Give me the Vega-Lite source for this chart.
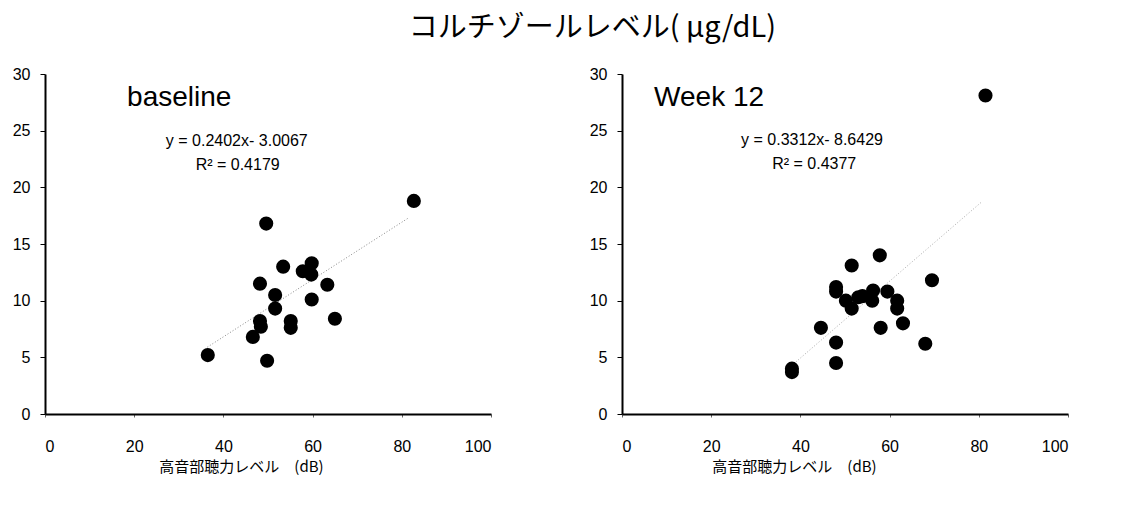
{
  "$schema": "https://vega.github.io/schema/vega-lite/v6.json",
  "padding": {"left": 12, "top": 14, "right": 10, "bottom": 5},
  "background": "white",
  "title": {"text": "コルチゾールレベル( μg/dL)", "font": "Noto Sans CJK JP", "fontSize": 29, "fontWeight": "normal", "anchor": "middle", "dx": 52, "offset": 23, "color": "black"},
  "spacing": 131,
  "bounds": "flush",
  "config": {
    "view": {"stroke": null},
    "axis": {"grid": false, "domainColor": "black", "domainWidth": 2, "tickColor": "black", "labelColor": "black", "labelFont": "Liberation Sans", "labelFontSize": 16, "titleColor": "black"},
    "axisX": {"tickSize": 3, "tickColor": "#666", "labelPadding": 21, "labelBaseline": "top", "titleFont": "Noto Sans CJK JP", "titleFontSize": 15, "titleFontWeight": "normal", "titleBaseline": "middle", "titleY": 52},
    "axisY": {"tickSize": 5, "labelPadding": 10}
  },
  "datasets": {
    "base_pts": [
      {"x": 36.5, "y": 5.2}, {"x": 49.6, "y": 16.8}, {"x": 49.8, "y": 4.7}, {"x": 48.2, "y": 11.5},
      {"x": 48.2, "y": 8.2}, {"x": 48.4, "y": 7.7}, {"x": 46.6, "y": 6.8}, {"x": 51.6, "y": 10.5},
      {"x": 51.6, "y": 9.3}, {"x": 53.4, "y": 13.0}, {"x": 55.1, "y": 8.2}, {"x": 55.1, "y": 7.6},
      {"x": 57.8, "y": 12.6}, {"x": 59.8, "y": 13.3}, {"x": 59.7, "y": 12.3}, {"x": 59.8, "y": 10.1},
      {"x": 63.3, "y": 11.4}, {"x": 65.0, "y": 8.4}, {"x": 82.7, "y": 18.8}
    ],
    "w12_pts": [
      {"x": 38.1, "y": 3.7}, {"x": 38.1, "y": 4.0}, {"x": 44.6, "y": 7.6}, {"x": 48.0, "y": 6.3},
      {"x": 48.0, "y": 4.5}, {"x": 48.0, "y": 10.8}, {"x": 48.0, "y": 11.2}, {"x": 50.2, "y": 10.0},
      {"x": 51.5, "y": 13.1}, {"x": 51.5, "y": 9.3}, {"x": 53.0, "y": 10.3}, {"x": 53.9, "y": 10.4},
      {"x": 56.1, "y": 10.0}, {"x": 56.3, "y": 10.9}, {"x": 57.8, "y": 14.0}, {"x": 58.0, "y": 7.6},
      {"x": 59.5, "y": 10.8}, {"x": 61.7, "y": 10.0}, {"x": 61.7, "y": 9.3}, {"x": 63.0, "y": 8.0},
      {"x": 68.0, "y": 6.2}, {"x": 69.5, "y": 11.8}, {"x": 81.5, "y": 28.1}
    ],
    "base_line": [{"x": 36.4, "y": 5.9}, {"x": 81.5, "y": 17.3}],
    "w12_line": [{"x": 39.0, "y": 4.6}, {"x": 80.6, "y": 18.7}],
    "base_lab": [{"x": 18.4, "y": 27.2, "t": "baseline"}],
    "w12_lab": [{"x": 7.2, "y": 27.2, "t": "Week 12"}],
    "base_eq": [{"x": 43.0, "y": 24.1, "t": "y = 0.2402x- 3.0067"}, {"x": 43.2, "y": 22.0, "t": "R² = 0.4179"}],
    "w12_eq": [{"x": 42.6, "y": 24.2, "t": "y = 0.3312x- 8.6429"}, {"x": 43.1, "y": 22.1, "t": "R² = 0.4377"}]
  },
  "hconcat": [
    {
      "width": 446, "height": 340,
      "encoding": {
        "x": {"field": "x", "type": "quantitative", "scale": {"domain": [0, 100]}, "axis": {"values": [0, 20, 40, 60, 80, 100], "title": "高音部聴力レベル　(dB)", "titleX": 196}},
        "y": {"field": "y", "type": "quantitative", "scale": {"domain": [0, 30]}, "axis": {"values": [0, 5, 10, 15, 20, 25, 30], "title": null}}
      },
      "layer": [
        {"data": {"name": "base_line"}, "mark": {"type": "line", "strokeDash": [1, 2], "color": "#888", "strokeWidth": 1}},
        {"data": {"name": "base_pts"}, "mark": {"type": "point", "shape": "circle", "filled": true, "color": "black", "size": 200, "opacity": 1}},
        {"data": {"name": "base_lab"}, "mark": {"type": "text", "align": "left", "baseline": "alphabetic", "font": "Liberation Sans", "fontSize": 28, "color": "black"}, "encoding": {"text": {"field": "t"}}},
        {"data": {"name": "base_eq"}, "mark": {"type": "text", "align": "center", "baseline": "middle", "font": "Liberation Sans", "fontSize": 16, "color": "black"}, "encoding": {"text": {"field": "t"}}}
      ]
    },
    {
      "width": 446, "height": 340,
      "encoding": {
        "x": {"field": "x", "type": "quantitative", "scale": {"domain": [0, 100]}, "axis": {"values": [0, 20, 40, 60, 80, 100], "title": "高音部聴力レベル　(dB)", "titleX": 172}},
        "y": {"field": "y", "type": "quantitative", "scale": {"domain": [0, 30]}, "axis": {"values": [0, 5, 10, 15, 20, 25, 30], "title": null}}
      },
      "layer": [
        {"data": {"name": "w12_line"}, "mark": {"type": "line", "strokeDash": [1, 2], "color": "#aaa", "strokeWidth": 1}},
        {"data": {"name": "w12_pts"}, "mark": {"type": "point", "shape": "circle", "filled": true, "color": "black", "size": 200, "opacity": 1}},
        {"data": {"name": "w12_lab"}, "mark": {"type": "text", "align": "left", "baseline": "alphabetic", "font": "Liberation Sans", "fontSize": 28, "color": "black"}, "encoding": {"text": {"field": "t"}}},
        {"data": {"name": "w12_eq"}, "mark": {"type": "text", "align": "center", "baseline": "middle", "font": "Liberation Sans", "fontSize": 16, "color": "black"}, "encoding": {"text": {"field": "t"}}}
      ]
    }
  ]
}
